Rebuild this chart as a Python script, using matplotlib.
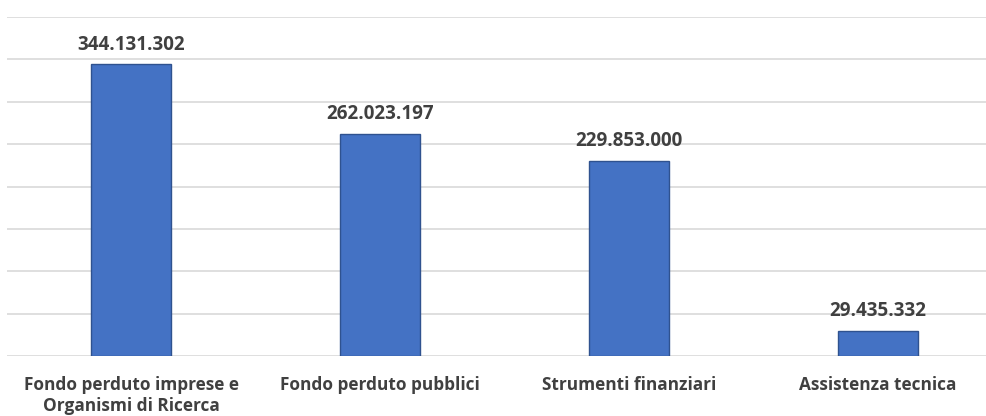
import matplotlib
matplotlib.use("Agg")
import matplotlib.pyplot as plt

categories = ["Fondo perduto imprese e\nOrganismi di Ricerca", "Fondo perduto pubblici",
              "Strumenti finanziari", "Assistenza tecnica"]
values = [344131302, 262023197, 229853000, 29435332]
value_labels = ["344.131.302", "262.023.197", "229.853.000", "29.435.332"]

W, H = 987, 416
fig = plt.figure(figsize=(W/100, H/100), dpi=100)
left = 6.5 / W
right = 1002.5 / W
bottom = (H - 356) / H
top = (H - 17) / H
ax = fig.add_axes([left, bottom, right - left, top - bottom])

x = list(range(len(categories)))
ax.bar(x, values, width=0.32, color="#4472C4", edgecolor="#2F528F", linewidth=1.0, zorder=3)
ax.set_xlim(-0.5, 3.5)
ax.set_ylim(0, 400e6)
ax.set_yticks([i * 50e6 for i in range(9)])
ax.yaxis.grid(True, color="#D9D9D9", linewidth=1.2)
ax.set_axisbelow(True)
ax.tick_params(axis="y", left=False, labelleft=False)
ax.tick_params(axis="x", bottom=False, pad=11)
for s in ax.spines.values():
    s.set_visible(False)
ax.set_xticks(x)
ax.set_xticklabels(categories, fontsize=12.4, fontweight="bold", color="#404040",
                   family=["Open Sans", "DejaVu Sans"], linespacing=1.2)
for xi, v, lab in zip(x, values, value_labels):
    ax.annotate(lab, (xi, v), xytext=(0, 7), textcoords="offset points",
                ha="center", va="bottom", fontsize=13.5, fontweight="bold",
                color="#404040", family=["Open Sans", "DejaVu Sans"])
fig.savefig("out.png", dpi=100)
